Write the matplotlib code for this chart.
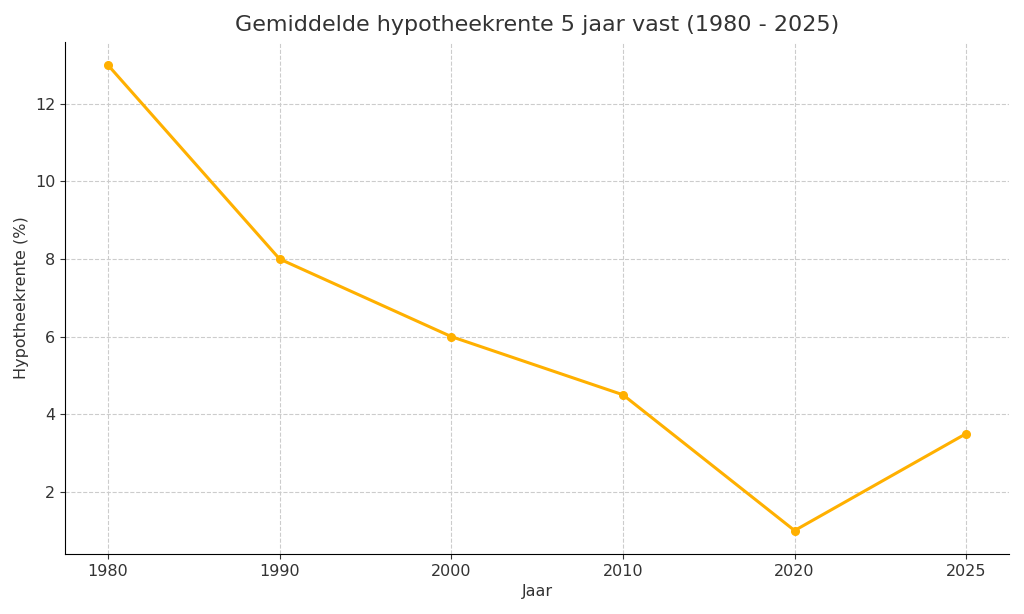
import matplotlib
matplotlib.use("Agg")
import matplotlib.pyplot as plt

years = ["1980", "1990", "2000", "2010", "2020", "2025"]
rates = [13, 8, 6, 4.5, 1, 3.5]

fig = plt.figure(figsize=(10.24, 6.14), dpi=100)
ax = fig.add_axes([0.0635, 0.098, 0.922, 0.834])
x = list(range(len(years)))
ax.plot(x, rates, color="#FFB000", linewidth=2.2, marker="o", markersize=5.5)
ax.set_xticks(x)
ax.set_xticklabels(years)
ax.set_xlim(-0.25, 5.25)
ax.set_ylim(0.4, 13.6)
ax.set_yticks([2, 4, 6, 8, 10, 12])
ax.grid(True, linestyle="--", color="#cccccc", linewidth=0.8)
ax.spines["top"].set_visible(False)
ax.spines["right"].set_visible(False)
ax.tick_params(labelsize=11.5, colors="#333333")
ax.set_title("Gemiddelde hypotheekrente 5 jaar vast (1980 - 2025)", fontsize=16, color="#333333", pad=8)
ax.set_xlabel("Jaar", fontsize=11.5, color="#333333", labelpad=4)
ax.set_ylabel("Hypotheekrente (%)", fontsize=11.5, color="#333333")
fig.savefig("out.png", dpi=100)
